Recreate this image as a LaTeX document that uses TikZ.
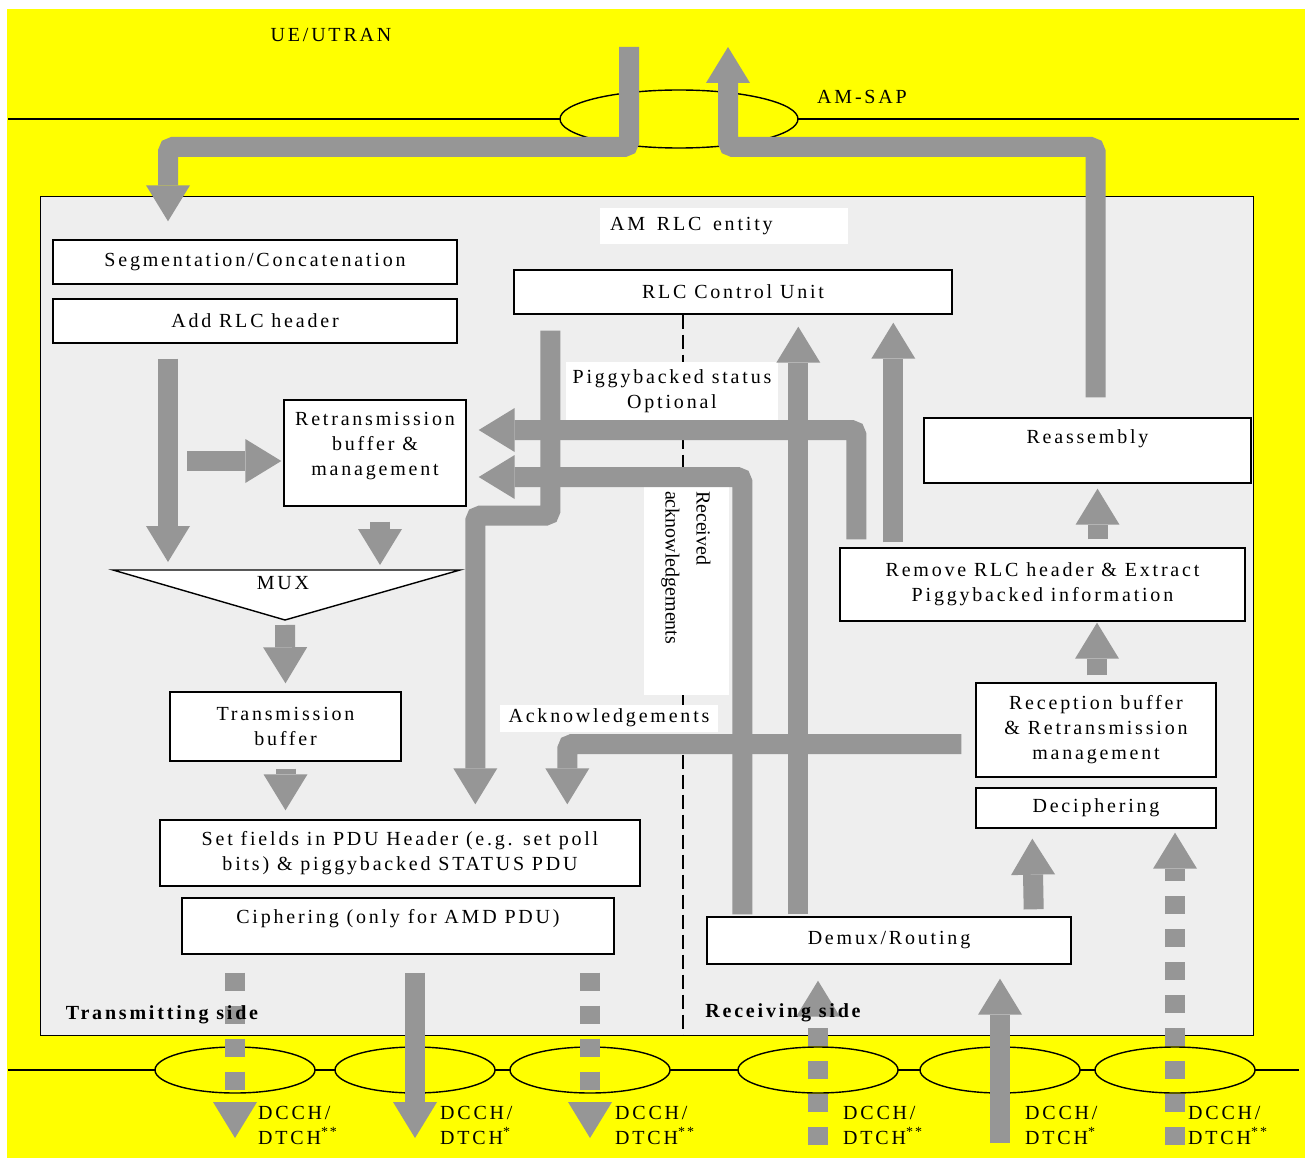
\documentclass[tikz,border=0pt]{standalone}
\usepackage{fontspec}
\setmainfont{Liberation Serif}[LetterSpace=14]
\newfontfamily\plainserif{Liberation Serif}
\usetikzlibrary{arrows.meta,calc,shapes.geometric}
\definecolor{flowgray}{RGB}{150,150,150}
\definecolor{entityfill}{RGB}{238,238,238}
\definecolor{sapyellow}{RGB}{255,255,0}

\begin{document}
\begin{tikzpicture}[x=1pt, y=-1pt, font=\fontsize{20}{25}\selectfont,
  block/.style={rectangle, draw, line width=1.4pt, fill=white, inner sep=0pt, align=center},
  fat/.style={draw=flowgray, line width=20pt, rounded corners=5pt, -{Triangle[length=36pt, width=44pt, line width=0pt]}},
  fatdash/.style={fat, dash pattern=on 18pt off 15pt},
  tag/.style={fill=white, inner sep=0pt, align=center},
  chan/.style={ellipse, draw, line width=1.4pt, fill=sapyellow, minimum width=160pt, minimum height=46pt, inner sep=0pt},
  chlabel/.style={anchor=west, align=left, inner sep=0pt},
  sidelabel/.style={font=\bfseries\fontsize{20}{25}\selectfont}]
  \useasboundingbox (0,0) rectangle (1305,1158);
  \fill[sapyellow] (7,9) rectangle (1305,1158);

  % SAP and channels
  \draw[line width=1.4pt] (8,119) -- (1299,119);
  \draw[line width=1.4pt] (8,1070) -- (1299,1070);
  \node[chan, minimum width=238pt, minimum height=58pt] (sap) at (679,119) {};
  \node[chan] (ch1) at (235,1070) {};
  \node[chan] (ch2) at (415,1070) {};
  \node[chan] (ch3) at (590,1070) {};
  \node[chan] (ch4) at (818,1070) {};
  \node[chan] (ch5) at (1000,1070) {};
  \node[chan] (ch6) at (1175,1070) {};
  \node (ueutran) at (331,35) {UE/UTRAN};
  \node (amsap) at (862,97) {AM-SAP};

  % entity
  \node[draw, line width=1.4pt, fill=entityfill, inner sep=0pt, minimum width=1213pt, minimum height=839pt, anchor=north west] (entity) at (40,196) {};
  \node[tag, anchor=west, minimum height=36pt, text width=228pt, inner xsep=10pt, align=left] (entlabel) at (600,226) {AM\hspace{5pt} RLC\hspace{5pt} entity};

  % boxes
  \node[block, minimum width=438pt, minimum height=44pt] (ctrl) at (733,292) {RLC Control Unit};
  \draw[line width=2.5pt, dash pattern=on 14pt off 6pt] (ctrl.south -| 683,0) -- (entity.south -| 683,0);
  \node[tag, minimum width=212pt, minimum height=58pt] (piggylabel) at (672,391) {Piggybacked status\\Optional};
  \node[tag, rotate=-90, minimum width=208pt, minimum height=85pt, text width=200pt, align=left, font=\plainserif\fontsize{20}{31}\selectfont] (racklabel) at (686,591) {Received\\acknowledgements};
  \node[tag, minimum width=218pt, minimum height=27pt] (acklabel) at (609,718) {Acknowledgements};

  \node[block, minimum width=404pt, minimum height=44pt] (seg) at (255,262) {Segmentation/Concatenation};
  \node[block, minimum width=404pt, minimum height=44pt, below of=seg, node distance=59pt] (addhdr) {Add RLC header};
  \node[block, minimum width=182pt, minimum height=106pt] (retx) at (375,453) {Retransmission\\buffer \&\\management\\[-6pt]};
  \draw[line width=1.4pt, fill=white] (113,570) coordinate (muxleft) -- (460,570) -- (285,620) coordinate (muxtip) -- cycle;
  \node (mux) at (283,583) {MUX};
  \node[block, minimum width=231pt, minimum height=69pt] (txbuf) at (285.5,726.5) {Transmission\\buffer};
  \node[block, minimum width=480pt, minimum height=66pt] (setfld) at (400,853) {Set fields in PDU Header (e.g. set poll\\bits) \& piggybacked STATUS PDU};
  \node[block, minimum width=432pt, minimum height=56pt] (cipher) at (398,926) {Ciphering (only for AMD PDU)\\[-6pt]};

  \node[block, minimum width=327pt, minimum height=65pt, label={[anchor=north, yshift=-9pt]north:Reassembly}] (reasm) at (1087.5,450.5) {};
  \node[block, minimum width=405pt, minimum height=73pt] (rmhdr) at (1042.5,584.5) {Remove RLC header \& Extract\\Piggybacked information};
  \node[block, minimum width=240pt, minimum height=94pt] (rxbuf) at (1096,730) {Reception buffer\\\& Retransmission\\management};
  \node[block, minimum width=240pt, minimum height=40pt, below of=rxbuf, node distance=78pt] (decip) {Deciphering};
  \node[block, minimum width=364pt, minimum height=47pt] (demux) at (889,940.5) {Demux/Routing};

  % flows
  \coordinate (sapin) at (629,47);
  \coordinate (sapout) at (728,47);
  \coordinate (topbus) at (0,147);
  \coordinate (colA) at (168,0);
  \draw[fat] (sapin) |- (colA |- topbus) -- ($(seg.north -| colA)+(0,-18)$);
  \draw[fat] ($(reasm.north)+(8,-20)$) |- (sapout |- topbus) -- (sapout);

  \draw[fat] ($(addhdr.south -| colA)+(0,15)$) -- ($(muxleft -| colA)+(0,-8)$);
  \draw[fat] ($(retx.west)+(-96,8)$) -- ($(retx.west)+(-2,8)$);
  \draw[fat] ($(retx.south)+(5,15)$) -- ($(muxleft -| retx)+(5,-5)$);
  \draw[fat] ($(muxtip)+(0,5)$) -- ($(txbuf.north)+(0,-8)$);
  \draw[fat] ($(txbuf.south)+(0,7)$) -- ($(setfld.north -| txbuf)+(0,-9)$);

  \draw[fat] ($(ctrl.south west)+(37,16)$) -- ($(ctrl.south west)+(37,201)$) -| ($(setfld.north west)+(316,-15)$);
  \draw[fat] ($(rmhdr.north west)+(17,-8)$) |- ($(retx.east)+(12,-23)$);
  \draw[fat] ($(demux.north west)+(36,-2)$) |- ($(retx.east)+(12,24)$);
  \draw[fat] ($(demux.north west)+(92,-2)$) -- ($(ctrl.south west)+(285,12)$);
  \draw[fat] ($(rmhdr.north west)+(54,-5)$) -- ($(ctrl.south west)+(380,8)$);
  \draw[fat] ($(rmhdr.north)+(55,-8)$) -- ($(reasm.south)+(10,5)$);
  \draw[fat] ($(rxbuf.north)+(1,-7)$) -- ($(rmhdr.south -| rxbuf)+(1,1)$);
  \draw[fat] ($(rxbuf.west)+(-14,14)$) -| ($(setfld.north west)+(408,-15)$);
  \draw[fat] ($(demux.north east)+(-38,-7)$) -- ($(decip.south west)+(57,10)$);

  % to and from the channels
  \draw[fatdash] ($(ch1 |- cipher.south)+(0,18)$) -- ($(ch1)+(0,68)$);
  \draw[fat] ($(ch2 |- cipher.south)+(0,18)$) -- ($(ch2)+(0,68)$);
  \draw[fatdash] ($(ch3 |- cipher.south)+(0,18)$) -- ($(ch3)+(0,68)$);
  \draw[fatdash] ($(ch4)+(0,75)$) -- ($(ch4 |- demux.south)+(0,16)$);
  \draw[fat] ($(ch5)+(0,73)$) -- ($(ch5 |- demux.south)+(0,14)$);
  \draw[fatdash] ($(ch6)+(0,75)$) -- ($(ch6 |- decip.south)+(0,4)$);

  \node[sidelabel] (txside) at (162,1015) {Transmitting side};
  \node[sidelabel] (rxside) at (783,1013) {Receiving side};
  \node[chlabel] (lab1) at (258,1125) {DCCH/\\DTCH\textsuperscript{**}};
  \node[chlabel] (lab2) at (440,1125) {DCCH/\\DTCH\textsuperscript{*}};
  \node[chlabel] (lab3) at (615,1125) {DCCH/\\DTCH\textsuperscript{**}};
  \node[chlabel] (lab4) at (843,1125) {DCCH/\\DTCH\textsuperscript{**}};
  \node[chlabel] (lab5) at (1025,1125) {DCCH/\\DTCH\textsuperscript{*}};
  \node[chlabel] (lab6) at (1188,1125) {DCCH/\\DTCH\textsuperscript{**}};
\end{tikzpicture}
\end{document}
